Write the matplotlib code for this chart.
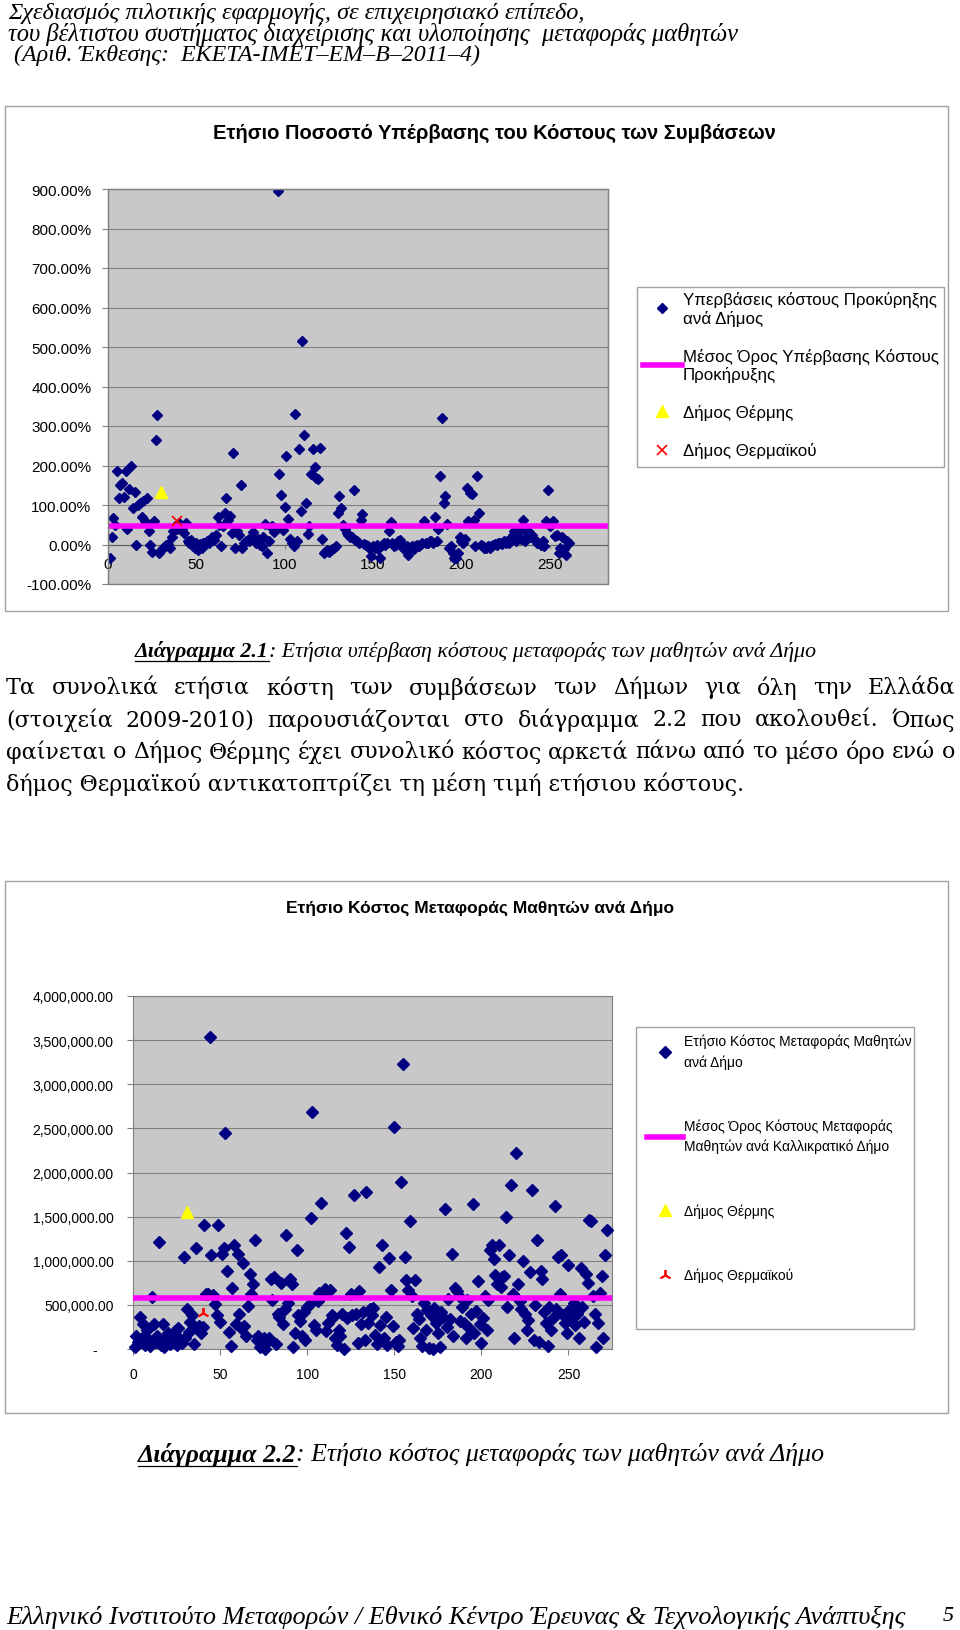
import matplotlib
matplotlib.use("Agg")
import matplotlib.pyplot as plt
from matplotlib.lines import Line2D
from matplotlib.patches import Rectangle
from matplotlib.ticker import FuncFormatter, MultipleLocator

W, H = 960, 1631

# --- Διάγραμμα 2.1: ετήσια υπέρβαση κόστους (%) ανά Δήμο (x = 1..261)
overrun_pct = [
    -33, 20, 67, 50, 185, 117, 150, 155, 120, 185,
    40, 140, 200, 93, 133, 0, 100, 104, 70, 110,
    60, 117, 33, 0, -18, 60, 265, 329, -22, -15,
    -10, -5, 0, 2, -8, 20, 33, 46, 40, 55,
    45, 38, 30, 55, 8, 5, 12, -3, -10, 5,
    -15, 2, -8, 5, 3, 8, 5, 10, 18, 12,
    25, 69, 50, -3, 46, 80, 118, 63, 72, 29,
    232, -10, 33, 25, 151, -8, 5, 10, 12, 8,
    20, 31, 12, 5, 15, 0, -5, 18, 53, -22,
    10, 45, 46, 31, 40, 896, 178, 125, 36, 95,
    225, 65, 14, 3, -5, 331, 8, 242, 84, 514,
    276, 106, 26, 48, 178, 242, 195, 168, 167, 244,
    14, -22, -18, -15, -20, -14, -12, -9, -5, 80,
    124, 93, 50, 40, 28, 25, 20, 18, 137, 12,
    10, 5, 61, 78, 2, 0, -3, -8, -30, -5,
    -10, 0, -12, -35, -2, 3, 0, 5, 33, 56,
    5, -3, 0, 8, 12, 3, -8, -15, -5, -26,
    -10, -3, -12, -5, 0, -3, 2, 5, 60, 3,
    5, 8, 10, 5, 69, 10, 40, 174, 320, 106,
    124, 53, -10, -5, -22, -33, -35, -22, 20, 10,
    3, 15, 144, 60, 131, 127, 63, -5, 174, 80,
    0, -3, -8, -10, -5, -8, -3, 0, 2, -2,
    3, 5, 2, 8, 5, 10, 3, 15, 25, 35,
    10, 20, 40, 15, 63, 8, 29, 35, 20, 25,
    15, 8, 5, 3, 0, 10, -5, 59, 137, 46,
    50, 59, 22, 25, -22, -9, 20, -12, -26, 10,
    3,
]
overrun_x = list(range(1, len(overrun_pct) + 1))
overrun_mean = 48
thermi_overrun = [30], [133]
thermaikos_overrun = [39], [59]

# --- Διάγραμμα 2.2: ετήσιο κόστος (εκατ. €) ανά Δήμο (x = 1..272)
cost_m = [
    0.02, 0.15, 0.08, 0.36, 0.12, 0.28, 0.05, 0.22, 0.10, 0.03,
    0.59, 0.28, 0.08, 0.15, 1.21, 0.05, 0.28, 0.02, 0.12, 0.18,
    0.06, 0.14, 0.09, 0.20, 0.04, 0.24, 0.11, 0.07, 1.04, 0.13,
    0.45, 0.19, 0.31, 0.39, 0.06, 1.14, 0.24, 0.26, 0.18, 0.25,
    1.40, 0.62, 0.62, 3.54, 1.06, 0.61, 0.51, 0.38, 1.40, 0.31,
    1.08, 1.14, 2.45, 0.88, 0.19, 0.03, 0.69, 1.18, 0.28, 1.08,
    0.40, 0.24, 0.98, 0.26, 0.15, 0.49, 0.85, 0.62, 0.74, 1.23,
    0.10, 0.15, 0.02, 0.05, 0.12, 0.00, 0.08, 0.13, 0.79, 0.56,
    0.82, 0.06, 0.40, 0.36, 0.75, 0.28, 0.45, 1.29, 0.52, 0.79,
    0.74, 0.02, 0.18, 1.12, 0.38, 0.32, 0.15, 0.42, 0.10, 0.48,
    0.50, 1.49, 2.69, 0.27, 0.22, 0.54, 0.64, 1.66, 0.62, 0.68,
    0.20, 0.30, 0.67, 0.38, 0.36, 0.12, 0.05, 0.21, 0.15, 0.40,
    0.00, 1.32, 0.35, 1.16, 0.62, 0.38, 1.75, 0.40, 0.07, 0.66,
    0.28, 0.42, 0.10, 1.78, 0.30, 0.45, 0.39, 0.47, 0.16, 0.06,
    0.93, 0.27, 1.18, 0.12, 0.36, 0.05, 1.03, 0.67, 0.26, 2.51,
    0.08, 0.03, 0.10, 1.89, 3.23, 1.04, 0.78, 0.67, 1.45, 0.60,
    0.24, 0.78, 0.40, 0.34, 0.12, 0.03, 0.52, 0.22, 0.44, 0.01,
    0.38, 0.00, 0.47, 0.30, 0.18, 0.02, 0.42, 0.36, 1.59, 0.25,
    0.57, 0.34, 1.08, 0.15, 0.69, 0.66, 0.60, 0.32, 0.48, 0.30,
    0.12, 0.55, 0.24, 0.40, 1.64, 0.18, 0.43, 0.77, 0.28, 0.07,
    0.35, 0.60, 0.22, 0.55, 1.12, 1.18, 1.02, 0.84, 0.74, 1.18,
    0.70, 0.82, 0.83, 1.50, 0.48, 1.07, 1.86, 0.62, 0.12, 2.22,
    0.74, 0.54, 0.45, 1.00, 0.40, 0.21, 0.33, 0.87, 1.80, 0.10,
    0.50, 1.23, 0.08, 0.88, 0.79, 0.42, 0.30, 0.03, 0.48, 0.22,
    0.35, 1.62, 0.45, 1.04, 0.62, 1.07, 0.38, 0.30, 0.18, 0.95,
    0.45, 0.36, 0.52, 0.27, 0.40, 0.13, 0.92, 0.48, 0.31, 0.85,
    0.75, 1.46, 1.45, 0.60, 0.40, 0.02, 0.30, 0.64, 0.83, 0.12,
    1.07, 1.35,
]
cost_x = list(range(1, len(cost_m) + 1))
cost_mean = 0.575
thermi_cost = [31], [1.55]
thermaikos_cost = [40], [0.41]

legend1_labels = ["Υπερβάσεις κόστους Προκύρηξης\nανά Δήμος",
                  "Μέσος Όρος Υπέρβασης Κόστους\nΠροκήρυξης",
                  "Δήμος Θέρμης", "Δήμος Θερμαϊκού"]
legend2_labels = ["Ετήσιο Κόστος Μεταφοράς Μαθητών\nανά Δήμο",
                  "Μέσος Όρος Κόστους Μεταφοράς\nΜαθητών ανά Καλλικρατικό Δήμο",
                  "Δήμος Θέρμης", "Δήμος Θερμαϊκού"]

header = ["Σχεδιασμός πιλοτικής εφαρμογής, σε επιχειρησιακό επίπεδο,",
          "του βέλτιστου συστήματος διαχείρισης και υλοποίησης  μεταφοράς μαθητών",
          " (Αριθ. Έκθεσης:  ΕΚΕΤΑ-ΙΜΕΤ–ΕΜ–Β–2011–4)"]
paragraph = ["Τα συνολικά ετήσια κόστη των συμβάσεων των Δήμων για όλη την Ελλάδα",
             "(στοιχεία 2009-2010) παρουσιάζονται στο διάγραμμα 2.2 που ακολουθεί. Όπως",
             "φαίνεται ο Δήμος Θέρμης έχει συνολικό κόστος αρκετά πάνω από το μέσο όρο ενώ ο",
             "δήμος Θερμαϊκού αντικατοπτρίζει τη μέση τιμή ετήσιου κόστους."]

NAVY = "#000080"
MAGENTA = "#ff00ff"
PLOT_BG = "#c8c8c8"
GRID = "#808080"
SANS = ["Liberation Sans", "DejaVu Sans"]
NARROW = ["Liberation Sans Narrow", "Liberation Sans", "DejaVu Sans"]
SERIF = ["DejaVu Serif"]
ITAL = ["Liberation Serif", "DejaVu Serif"]

fig = plt.figure(figsize=(W / 100, H / 100), dpi=100)
renderer = fig.canvas.get_renderer()


def fx(x):
    return x / W


def fy(y):
    return 1 - y / H


def box(x0, y0, x1, y1, color="#a0a0a0"):
    fig.patches.append(Rectangle((fx(x0), fy(y1)), fx(x1) - fx(x0), fy(y0) - fy(y1),
                                 transform=fig.transFigure, fill=False,
                                 edgecolor=color, lw=1))


def fit_text(x, y, s, width, ha="left", **kw):
    t = fig.text(fx(x), fy(y), s, fontsize=12, va="center", ha=ha, **kw)
    w = t.get_window_extent(renderer).width
    t.set_fontsize(12 * width / w)
    return t


def justify(y, s, x0, x1, size, **kw):
    words = s.split()
    texts = [fig.text(0, fy(y), w, fontsize=size, va="center", **kw) for w in words]
    widths = [t.get_window_extent(renderer).width for t in texts]
    gap = (x1 - x0 - sum(widths)) / (len(words) - 1)
    x = x0
    for t, w in zip(texts, widths):
        t.set_x(fx(x))
        x += w + gap


def caption(y, bold, rest, x0, x1):
    size = 12
    for _ in range(2):
        b = fig.text(fx(x0), fy(y), bold, fontsize=size, va="center",
                     family=ITAL, style="italic", weight="bold")
        wb = b.get_window_extent(renderer).width
        r = fig.text(fx(x0 + wb), fy(y), rest, fontsize=size, va="center",
                     family=ITAL, style="italic")
        wr = r.get_window_extent(renderer).width
        if _ == 0:
            b.remove()
            r.remove()
            size = size * (x1 - x0) / (wb + wr)
    ul = y + size * 0.62
    fig.add_artist(Line2D([fx(x0), fx(x0 + wb)], [fy(ul), fy(ul)],
                          transform=fig.transFigure, color="black", lw=0.9))


# --- page text
for y, s, w in zip([13, 34, 55], header, [575, 732, 472]):
    fit_text(8, y, s, w, family=ITAL, style="italic")

caption(652, "Διάγραμμα 2.1", ": Ετήσια υπέρβαση κόστους μεταφοράς των μαθητών ανά Δήμο", 135, 816)
caption(1455, "Διάγραμμα 2.2", ": Ετήσιο κόστος μεταφοράς των μαθητών ανά Δήμο", 138, 822)

last = fit_text(6, 784, paragraph[3], 738, family=SERIF)
psize = last.get_fontsize()
for y, s in zip([688, 720, 752], paragraph[:3]):
    justify(y, s, 6, 955, psize, family=SERIF)

fit_text(6, 1617, "Ελληνικό Ινστιτούτο Μεταφορών / Εθνικό Κέντρο Έρευνας & Τεχνολογικής Ανάπτυξης",
         900, family=ITAL, style="italic")
fig.text(fx(954), fy(1617), "5", fontsize=psize, va="center", ha="right",
         family=ITAL, style="italic")

# --- chart 1
box(5, 107, 948, 612)
fit_text(494, 133, "Ετήσιο Ποσοστό Υπέρβασης του Κόστους των Συμβάσεων", 560,
         ha="center", family=SANS, weight="bold")

ax1 = fig.add_axes([fx(108), fy(585), (608 - 108) / W, (585 - 190) / H])
ax1.set_facecolor(PLOT_BG)
h1, = ax1.plot(overrun_x, overrun_pct, "D", color=NAVY, ms=5.5, zorder=3)
h2 = ax1.axhline(overrun_mean, color=MAGENTA, lw=4, zorder=4)
h3, = ax1.plot(*thermi_overrun, "^", color="#ffff00", ms=8, zorder=5)
h4, = ax1.plot(*thermaikos_overrun, "x", color="#ff0000", ms=7, mew=1.2, zorder=5)
ax1.set_xlim(0, 283)
ax1.set_ylim(-100, 900)
ax1.set_xticks(range(0, 251, 50))
ax1.yaxis.set_major_locator(MultipleLocator(100))
ax1.yaxis.set_major_formatter(FuncFormatter(lambda v, p: f"{v:.2f}%"))
ax1.grid(axis="y", color=GRID, lw=0.8)
ax1.set_axisbelow(True)
for sp in ax1.spines.values():
    sp.set_color(GRID)
ax1.spines["bottom"].set_position(("data", 0))
ax1.spines["bottom"].set_color("#606060")
ax1.add_patch(Rectangle((0, 0), 1, 1, transform=ax1.transAxes, fill=False,
                        edgecolor=GRID, lw=1, clip_on=False, zorder=6))
ax1.tick_params(axis="y", labelsize=11, length=4, pad=8, colors="black")
ax1.tick_params(axis="x", labelsize=11, length=3, pad=6, colors="black")
for lab in ax1.get_xticklabels() + ax1.get_yticklabels():
    lab.set_family(SANS)
ax1.tick_params(axis="both", color=GRID)

box(637, 288, 944, 468)
leg1 = fig.legend([h1, h2, h3, h4], legend1_labels, loc="upper left",
                  bbox_to_anchor=(fx(643), fy(292)), borderaxespad=0, borderpad=0,
                  frameon=False, numpoints=1, handlelength=2.3, handletextpad=0.05,
                  labelspacing=1.3, prop={"family": SANS, "size": 12.2})

# --- chart 2
box(5, 882, 948, 1414)
fit_text(480, 908, "Ετήσιο Κόστος Μεταφοράς Μαθητών ανά Δήμο", 387,
         ha="center", family=SANS, weight="bold")

ax2 = fig.add_axes([fx(133), fy(1350), (612 - 133) / W, (1350 - 997) / H])
ax2.set_facecolor(PLOT_BG)
g1, = ax2.plot(cost_x, cost_m, "D", color=NAVY, ms=5.8, zorder=3, clip_on=False)
g2 = ax2.axhline(cost_mean, color=MAGENTA, lw=4, zorder=4)
g3, = ax2.plot(*thermi_cost, "^", color="#ffff00", ms=8, zorder=5)
g4, = ax2.plot(*thermaikos_cost, marker=(3, 2, 0), ls="none", color="#ff0000",
               ms=8, mew=1.3, zorder=5)
ax2.set_xlim(0, 275)
ax2.set_ylim(0, 4)
ax2.set_xticks(range(0, 251, 50))
ax2.yaxis.set_major_locator(MultipleLocator(0.5))
ax2.yaxis.set_major_formatter(FuncFormatter(
    lambda v, p: f"{v * 1e6:,.2f}" if v > 0 else "-    "))
ax2.grid(axis="y", color=GRID, lw=0.8)
ax2.set_axisbelow(True)
for sp in ax2.spines.values():
    sp.set_color(GRID)
ax2.tick_params(axis="y", labelsize=10, length=4, pad=10, color=GRID)
ax2.tick_params(axis="x", labelsize=10, length=4, pad=9, color=GRID)
for lab in ax2.get_xticklabels() + ax2.get_yticklabels():
    lab.set_family(SANS)

box(636, 1028, 914, 1330)
leg2 = fig.legend([g1, g2, g3, g4], legend2_labels, loc="upper left",
                  bbox_to_anchor=(fx(647), fy(1035)), borderaxespad=0, borderpad=0,
                  frameon=False, numpoints=1, handlelength=2.6, handletextpad=0.1,
                  labelspacing=3.6, prop={"family": NARROW, "size": 10})
for t in leg2.get_texts():
    t.set_linespacing(1.5)

fig.savefig("out.png", dpi=100)
